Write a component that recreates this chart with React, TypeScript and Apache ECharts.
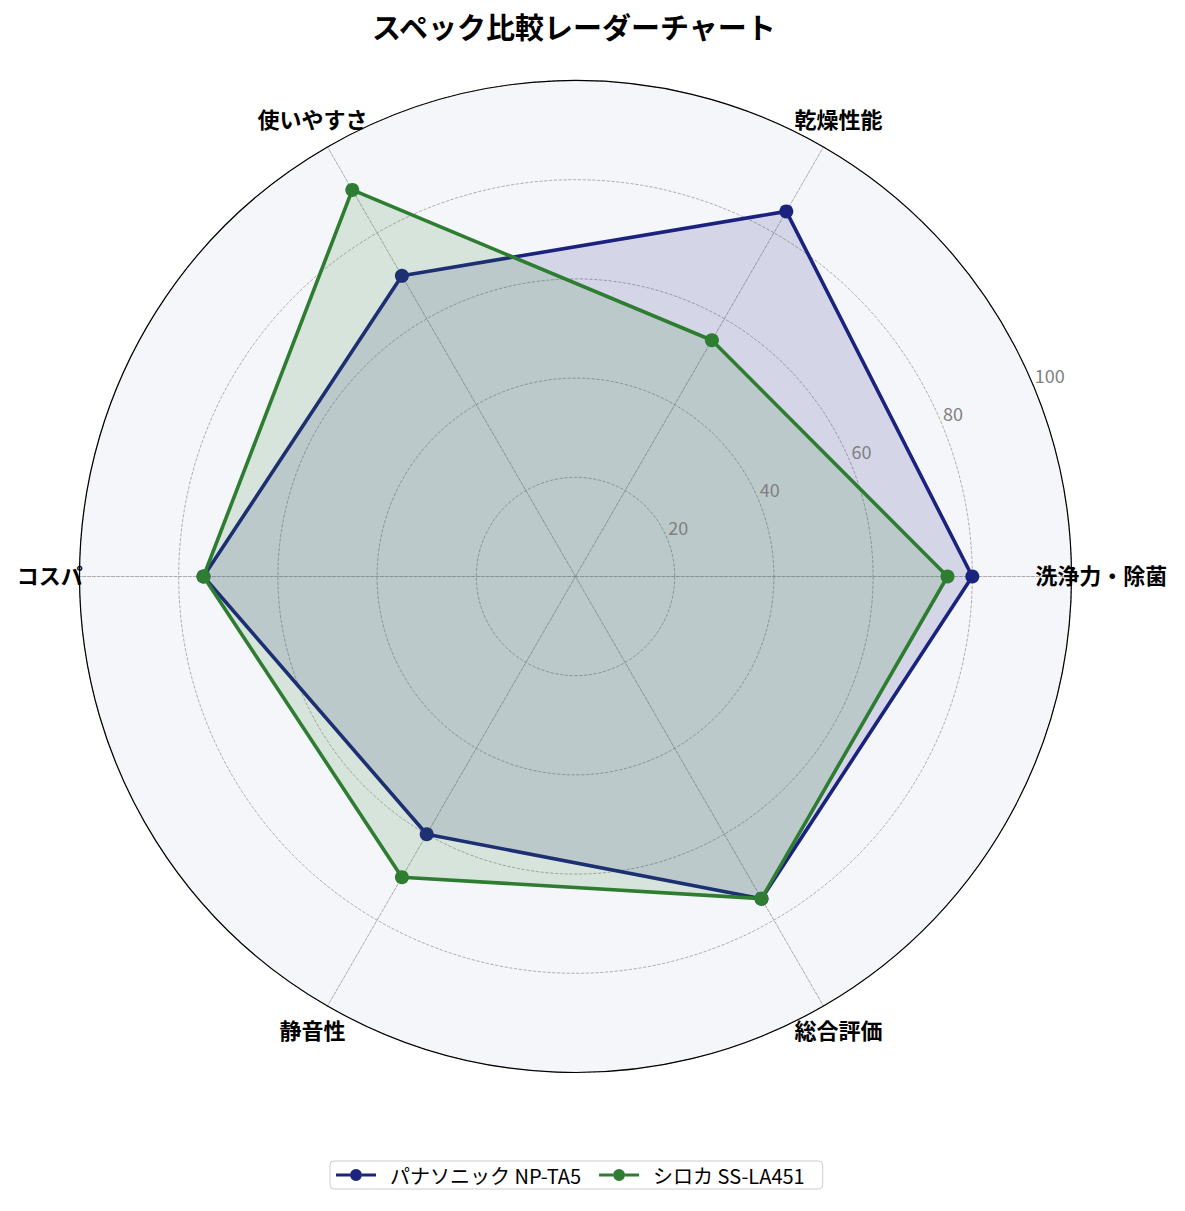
import React, { useEffect, useRef } from "react";
import * as echarts from "echarts";

const AXES = ["洗浄力・除菌", "乾燥性能", "使いやすさ", "コスパ", "静音性", "総合評価"];
const PANASONIC = [80, 85, 70, 75, 60, 75];
const SHIROCA = [75, 55, 90, 75, 70, 75];
const SERIES_NAMES = ["パナソニック NP-TA5", "シロカ SS-LA451"];
const COLORS = ["#1a237e", "#2e7d32"];
const TICKS_MAX = 100;

const CENTER = [575.5, 576.5];
const RADIUS = 496;
const FONT = "'Noto Sans CJK JP', 'Noto Sans', sans-serif";

// line + dot marker for the legend
const legendIcon =
  "path://M0,8.5 H14 V11.5 H0 Z M26,8.5 H40 V11.5 H26 Z M14,10 a6,6 0 1,0 12,0 a6,6 0 1,0 -12,0 Z";

export default function App() {
  const ref = useRef<HTMLDivElement>(null);

  useEffect(() => {
    if (!ref.current) return;
    const chart = echarts.init(ref.current, undefined, { renderer: "svg" });

    const nameData = AXES.map((name, i) => ({ name, value: [106, (i * 360) / AXES.length] }));

    chart.setOption({
      animation: false,
      backgroundColor: "#ffffff",
      textStyle: { fontFamily: FONT },
      title: {
        text: "スペック比較レーダーチャート",
        left: 367,
        top: 6,
        textStyle: { fontSize: 29, fontWeight: "bold", color: "#000", fontFamily: FONT },
      },
      legend: {
        top: 1161,
        left: 330,
        orient: "horizontal",
        borderColor: "#cccccc",
        borderWidth: 1,
        borderRadius: 4,
        padding: [4, 18, 4, 6],
        itemGap: 18,
        itemWidth: 40,
        itemHeight: 20,
        textStyle: { fontSize: 20, color: "#000", fontFamily: FONT, padding: [0, 0, 0, 9] },
        data: SERIES_NAMES.map((name) => ({ name, icon: legendIcon })),
      },
      radar: {
        center: CENTER,
        radius: RADIUS,
        startAngle: 0,
        shape: "circle",
        splitNumber: 5,
        indicator: AXES.map((name) => ({ name, min: 0, max: TICKS_MAX })),
        axisName: { show: false },
        axisLine: { lineStyle: { color: "#999", type: "dashed", width: 0.8 } },
        splitLine: { lineStyle: { color: "#999", type: "dashed", width: 0.8 } },
        splitArea: { show: true, areaStyle: { color: ["#f5f6fa"] } },
        axisTick: { show: false },
        axisLabel: { show: false },
      },
      polar: [
        { center: CENTER, radius: RADIUS },
        { center: CENTER, radius: RADIUS * 1.1 },
      ],
      angleAxis: [
        {
          polarIndex: 0,
          type: "value",
          min: 0,
          max: 360,
          startAngle: 22.5,
          clockwise: false,
          z: 10,
          axisLine: { show: true, lineStyle: { color: "#000", width: 1.2 } },
          axisTick: { show: false },
          axisLabel: { show: false },
          splitLine: { show: false },
        },
        {
          polarIndex: 1,
          type: "value",
          min: 0,
          max: 360,
          startAngle: 0,
          clockwise: false,
          show: false,
        },
      ],
      radiusAxis: [
        {
          polarIndex: 0,
          type: "value",
          min: 0,
          max: TICKS_MAX,
          interval: 20,
          z: 10,
          axisLine: { show: false },
          axisTick: { show: false },
          splitLine: { show: false },
          axisLabel: {
            color: "#808080",
            fontSize: 18,
            fontFamily: FONT,
            margin: 13,
            align: "left",
            verticalAlign: "middle",
            padding: [0, 0, 0, 6],
            formatter: (v: number) => (v === 0 ? "" : String(v)),
          },
        },
        { polarIndex: 1, type: "value", min: 0, max: 110, show: false },
      ],
      series: [
        ...[PANASONIC, SHIROCA].map((vals, i) => ({
          name: SERIES_NAMES[i],
          type: "radar",
          z: 3 + i,
          symbol: "circle",
          symbolSize: 14,
          lineStyle: { color: COLORS[i], width: 3.6 },
          itemStyle: { color: COLORS[i] },
          areaStyle: { color: COLORS[i], opacity: 0.15 },
          data: [{ name: SERIES_NAMES[i], value: vals }],
        })),
        {
          type: "scatter",
          coordinateSystem: "polar",
          polarIndex: 1,
          symbolSize: 0,
          silent: true,
          clip: false,
          itemStyle: { opacity: 1 },
          label: {
            show: true,
            position: "inside",
            offset: [0, -3],
            formatter: "{b}",
            fontSize: 22,
            fontWeight: "bold",
            color: "#000",
            textBorderWidth: 0,
            fontFamily: FONT,
          },
          data: nameData,
        },
      ],
    });

    return () => chart.dispose();
  }, []);

  return (
    <div
      ref={ref}
      style={{ position: "absolute", left: 0, top: 0, width: 1185, height: 1211 }}
    />
  );
}
